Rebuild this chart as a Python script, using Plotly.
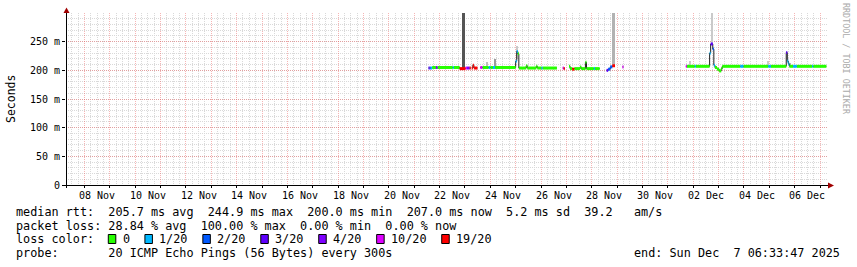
import pandas as pd
import plotly.graph_objects as go

# ---------------- data ----------------
t_start = "2025-11-07 06:33:47"
t_end = "2025-12-07 06:33:47"

seg_start = [
    "2025-11-21 13:30", "2025-11-21 14:30", "2025-11-21 15:30", "2025-11-21 17:00", "2025-11-21 20:30",
    "2025-11-21 22:00", "2025-11-22 12:30", "2025-11-22 13:30", "2025-11-22 19:00", "2025-11-23 00:30",
    "2025-11-23 02:00", "2025-11-23 04:30", "2025-11-23 06:30", "2025-11-23 07:30", "2025-11-23 08:30",
    "2025-11-23 09:30", "2025-11-23 14:30", "2025-11-23 16:30", "2025-11-23 22:30", "2025-11-24 00:00",
    "2025-11-24 02:30", "2025-11-24 04:30", "2025-11-25 00:00", "2025-11-25 01:00", "2025-11-25 02:00",
    "2025-11-25 03:00", "2025-11-25 10:00", "2025-11-25 11:00", "2025-11-25 19:30", "2025-11-25 20:30",
    "2025-11-26 00:30", "2025-11-26 01:30", "2025-11-26 20:30", "2025-11-26 21:30", "2025-11-27 02:30",
    "2025-11-27 03:30", "2025-11-27 05:30", "2025-11-27 07:30", "2025-11-27 13:00", "2025-11-27 14:00",
    "2025-11-27 18:00", "2025-11-27 19:00", "2025-11-28 02:00", "2025-11-28 03:00", "2025-11-28 14:00",
    "2025-11-28 15:30", "2025-11-28 17:30", "2025-11-28 19:30", "2025-11-29 05:00",
    "2025-12-01 17:00", "2025-12-01 18:00", "2025-12-02 01:30", "2025-12-02 02:30", "2025-12-02 15:30",
    "2025-12-02 16:30", "2025-12-02 18:30", "2025-12-02 19:30", "2025-12-02 20:30", "2025-12-02 22:30",
    "2025-12-03 00:30", "2025-12-03 02:30", "2025-12-03 03:30", "2025-12-03 20:30", "2025-12-03 23:30",
    "2025-12-04 23:00", "2025-12-05 01:30", "2025-12-05 16:00", "2025-12-05 17:00", "2025-12-05 18:00",
    "2025-12-05 19:00", "2025-12-05 22:30", "2025-12-06 02:00", "2025-12-06 16:30", "2025-12-06 17:30",
]
seg_end = [
    "2025-11-21 14:30", "2025-11-21 15:30", "2025-11-21 17:00", "2025-11-21 20:30", "2025-11-21 22:00",
    "2025-11-22 12:30", "2025-11-22 13:30", "2025-11-22 19:00", "2025-11-23 00:30", "2025-11-23 02:00",
    "2025-11-23 04:30", "2025-11-23 05:30", "2025-11-23 07:30", "2025-11-23 08:30", "2025-11-23 09:30",
    "2025-11-23 11:50", "2025-11-23 16:30", "2025-11-23 22:30", "2025-11-24 00:00", "2025-11-24 02:30",
    "2025-11-24 04:30", "2025-11-25 00:00", "2025-11-25 01:00", "2025-11-25 02:00", "2025-11-25 03:00",
    "2025-11-25 10:00", "2025-11-25 11:00", "2025-11-25 19:30", "2025-11-25 20:30", "2025-11-26 00:30",
    "2025-11-26 01:30", "2025-11-26 15:00", "2025-11-26 21:30", "2025-11-26 22:30", "2025-11-27 03:30",
    "2025-11-27 05:30", "2025-11-27 07:30", "2025-11-27 13:00", "2025-11-27 14:00", "2025-11-27 18:00",
    "2025-11-27 19:00", "2025-11-28 02:00", "2025-11-28 03:00", "2025-11-28 07:30", "2025-11-28 15:30",
    "2025-11-28 17:30", "2025-11-28 19:30", "2025-11-28 22:00", "2025-11-29 06:00",
    "2025-12-01 18:00", "2025-12-02 01:30", "2025-12-02 02:30", "2025-12-02 15:30", "2025-12-02 16:30",
    "2025-12-02 18:30", "2025-12-02 19:30", "2025-12-02 20:30", "2025-12-02 22:30", "2025-12-03 00:30",
    "2025-12-03 02:30", "2025-12-03 03:30", "2025-12-03 20:30", "2025-12-03 23:30", "2025-12-04 23:00",
    "2025-12-05 01:30", "2025-12-05 16:00", "2025-12-05 17:00", "2025-12-05 18:00", "2025-12-05 19:00",
    "2025-12-05 22:30", "2025-12-06 02:00", "2025-12-06 16:30", "2025-12-06 17:30", "2025-12-07 06:00",
]
seg_median_ms = [
    204, 204, 204, 205, 205,
    205, 205, 205, 203, 204,
    204, 204, 204, 209, 204,
    204, 205, 205, 205, 205,
    205, 205, 216, 233, 229,
    204, 208, 204, 207, 204,
    204, 204, 204, 203, 207,
    203, 202, 203, 206, 203,
    214, 203, 203, 203, 200,
    202, 206, 208, 206,
    207, 207, 207, 207, 230,
    246, 237, 209, 205, 202,
    199, 203, 207, 207, 207,
    207, 207, 231, 216, 211,
    207, 207, 207, 207, 207,
]
seg_loss = [
    3, 2, 1, 0, 4,
    0, 1, 0, 16, 8,
    4, 16, 17, 17, 17,
    16, 9, 0, 1, 0,
    1, 0, 1, 1, 0,
    0, 0, 0, 0, 0,
    1, 0, 10, 18, 0,
    0, 17, 0, 0, 0,
    0, 0, 1, 0, 3,
    2, 2, 18, 10,
    10, 0, 1, 0, 1,
    3, 2, 1, 0, 0,
    0, 0, 0, 1, 0,
    1, 0, 3, 1, 1,
    0, 1, 0, 1, 0,
]

smoke_start = ["2025-11-22 21:30", "2025-11-23 20:30", "2025-11-24 03:45", "2025-11-25 00:30",
               "2025-11-28 19:00", "2025-12-01 20:30", "2025-12-02 16:30", "2025-12-04 22:30",
               "2025-12-05 19:00"]
smoke_end = ["2025-11-23 00:00", "2025-11-23 21:15", "2025-11-24 04:30", "2025-11-25 02:30",
             "2025-11-28 22:00", "2025-12-01 21:30", "2025-12-02 18:30", "2025-12-04 23:30",
             "2025-12-05 20:30"]
smoke_lo_ms = [203, 206, 206, 220, 209, 208, 248, 208, 208]
smoke_hi_ms = [310, 214, 220, 243, 310, 216, 310, 217, 213]
smoke_pings = [12, 3, 6, 2, 4, 2, 2, 2, 4]

x_label_dates = ["2025-11-08 12:00", "2025-11-10 12:00", "2025-11-12 12:00", "2025-11-14 12:00",
                 "2025-11-16 12:00", "2025-11-18 12:00", "2025-11-20 12:00", "2025-11-22 12:00",
                 "2025-11-24 12:00", "2025-11-26 12:00", "2025-11-28 12:00", "2025-11-30 12:00",
                 "2025-12-02 12:00", "2025-12-04 12:00", "2025-12-06 12:00"]
x_label_text = ["08 Nov", "10 Nov", "12 Nov", "14 Nov", "16 Nov", "18 Nov", "20 Nov", "22 Nov",
                "24 Nov", "26 Nov", "28 Nov", "30 Nov", "02 Dec", "04 Dec", "06 Dec"]
y_tick_vals = [0, 50, 100, 150, 200, 250]
y_tick_text = ["0", "50 m", "100 m", "150 m", "200 m", "250 m"]

loss_levels = [0, 1, 2, 3, 4, 10, 19]
loss_labels = ["0", "1/20", "2/20", "3/20", "4/20", "10/20", "19/20"]
loss_colors = ["#26ff00", "#00b8ff", "#0059ff", "#5e00ff", "#7e00ff", "#dd00ff", "#ff0000"]

rtt_stats = [205.7, 244.9, 200.0, 207.0]
rtt_sd = 5.2
rtt_ams = 39.2
loss_stats = [28.84, 100.00, 0.00, 0.00]
probe_text = "20 ICMP Echo Pings (56 Bytes) every 300s"
end_text = "end: Sun Dec  7 06:33:47 2025"

# ---------------- layout geometry ----------------
W, H = 857, 267
L, R, T, B = 66, 30, 13, 82
PW = W - L - R
PH = H - T - B
MONO = "DejaVu Sans Mono"


def px_x(px):
    return (px - L) / PW


def px_y(py):
    return (T + PH - py) / PH


def loss_bucket(n):
    for i, lvl in enumerate(loss_levels):
        if n <= lvl:
            return i
    return len(loss_levels) - 1


def nb(s):
    return s.replace(" ", "\u00a0")


fig = go.Figure()

# smoke
ss = pd.to_datetime(smoke_start)
se = pd.to_datetime(smoke_end)
smoke_cols = []
for p in smoke_pings:
    g = int(round(225 - 140 * min(p, 12) / 12))
    smoke_cols.append(f"rgb({g},{g},{g})")
fig.add_trace(go.Bar(
    x=ss + (se - ss) / 2,
    y=[h - l for h, l in zip(smoke_hi_ms, smoke_lo_ms)],
    base=smoke_lo_ms,
    width=list((se - ss).total_seconds() * 1000),
    marker=dict(color=smoke_cols, line=dict(width=0)),
    hoverinfo="skip", showlegend=False,
))

# median line (dark), drawn under the loss-coloured band
s = pd.to_datetime(seg_start)
e = pd.to_datetime(seg_end)
lx, ly = [], []
for i in range(len(s)):
    lx += [s[i], e[i]]
    ly += [seg_median_ms[i], seg_median_ms[i]]
    if i + 1 < len(s) and s[i + 1] != e[i]:
        lx.append(e[i])
        ly.append(None)
fig.add_trace(go.Scatter(x=lx, y=ly, mode="lines", line=dict(color="#202020", width=1),
                         connectgaps=False, hoverinfo="skip", showlegend=False))

# loss-coloured band: one trace per loss colour
for b, col in enumerate(loss_colors):
    bx_, by_ = [], []
    for i in range(len(s)):
        if loss_bucket(seg_loss[i]) == b:
            bx_ += [s[i], e[i], e[i]]
            by_ += [seg_median_ms[i], seg_median_ms[i], None]
    if bx_:
        fig.add_trace(go.Scatter(x=bx_, y=by_, mode="lines", line=dict(color=col, width=3),
                                 connectgaps=False, hoverinfo="skip", showlegend=False))

major_grid = "rgba(235,90,90,0.45)"
minor_grid = "#d9d9d9"

fig.update_layout(
    width=W, height=H,
    margin=dict(l=L, r=R, t=T, b=B, pad=0),
    paper_bgcolor="white", plot_bgcolor="white",
    barmode="overlay", bargap=0,
    showlegend=False,
    font=dict(family=MONO, size=10, color="black"),
    xaxis=dict(
        type="date", range=[t_start, t_end],
        showgrid=True, gridcolor=major_grid, griddash="1px,1px", gridwidth=1,
        tick0="2025-11-08 00:00", dtick=86400000,
        showticklabels=False, ticks="outside", ticklen=2, tickcolor="#000", tickwidth=1,
        minor=dict(dtick=21600000, tick0="2025-11-08 00:00", showgrid=True,
                   gridcolor=minor_grid, griddash="1px,1px", ticks=""),
        showline=False, zeroline=False, fixedrange=True,
    ),
    yaxis=dict(
        range=[0, 300], tickmode="array", tickvals=y_tick_vals, ticktext=y_tick_text,
        showgrid=True, gridcolor=major_grid, griddash="1px,1px", gridwidth=1,
        minor=dict(dtick=10, tick0=0, showgrid=True, gridcolor=minor_grid,
                   griddash="1px,1px", ticks=""),
        ticks="outside", ticklen=3, tickcolor="#000", tickwidth=1,
        tickfont=dict(family=MONO, size=10, color="black"),
        showline=False, zeroline=False, fixedrange=True,
    ),
)

shapes = []
ann = []
# axes lines and arrows
shapes.append(dict(type="line", xref="paper", yref="paper", x0=px_x(62.5), x1=px_x(829),
                   y0=px_y(185.5), y1=px_y(185.5), line=dict(color="#000", width=1)))
shapes.append(dict(type="line", xref="paper", yref="paper", x0=px_x(66.5), x1=px_x(66.5),
                   y0=px_y(188), y1=px_y(12), line=dict(color="#000", width=1)))
shapes.append(dict(type="path", xref="paper", yref="paper",
                   path=f"M {px_x(828)} {px_y(182.5)} L {px_x(834)} {px_y(185.5)} L {px_x(828)} {px_y(188.5)} Z",
                   fillcolor="#a00000", line=dict(width=0)))
shapes.append(dict(type="path", xref="paper", yref="paper",
                   path=f"M {px_x(63.5)} {px_y(13)} L {px_x(66.5)} {px_y(7.5)} L {px_x(69.5)} {px_y(13)} Z",
                   fillcolor="#a00000", line=dict(width=0)))

# x labels
for d, txt in zip(x_label_dates, x_label_text):
    ann.append(dict(x=d, xref="x", y=px_y(195), yref="paper", text=nb(txt), showarrow=False,
                    xanchor="center", yanchor="middle", font=dict(family=MONO, size=10, color="black"),
                    borderpad=0, borderwidth=0))

# y title
ann.append(dict(x=px_x(11), xref="paper", y=px_y(99), yref="paper", text="Seconds", textangle=-90,
                showarrow=False, xanchor="center", yanchor="middle",
                font=dict(family=MONO, size=11.5, color="black"), borderpad=0, borderwidth=0))
# watermark
ann.append(dict(x=px_x(846), xref="paper", y=px_y(59), yref="paper", text=nb("RRDTOOL / TOBI OETIKER"),
                textangle=90, showarrow=False, xanchor="center", yanchor="middle",
                font=dict(family=MONO, size=8.4, color="#aaaaaa"), borderpad=0, borderwidth=0))

LF = 11.8
CW = 7.11


def legend_text(px, py, text, anchor="left"):
    ann.append(dict(x=px_x(px), xref="paper", y=px_y(py), yref="paper", text=nb(text), showarrow=False,
                    xanchor=anchor, yanchor="middle", font=dict(family=MONO, size=LF, color="black"),
                    borderpad=0, borderwidth=0))


line1 = ("median rtt:  " + f"{rtt_stats[0]:.1f} ms avg  {rtt_stats[1]:.1f} ms max  "
         f"{rtt_stats[2]:.1f} ms min  {rtt_stats[3]:.1f} ms now  {rtt_sd:.1f} ms sd  {rtt_ams:.1f}   am/s")
line2 = ("packet loss: " + f"{loss_stats[0]:.2f} % avg  {loss_stats[1]:.2f} % max  "
         f"{loss_stats[2]:.2f} % min  {loss_stats[3]:.2f} % now")
legend_text(16, 211.5, line1)
legend_text(16, 225.5, line2)
legend_text(16, 239, "loss color:")
legend_text(16, 253, "probe:       " + probe_text)
legend_text(840, 253, end_text, anchor="right")

bx = 108.3
for lab, col in zip(loss_labels, loss_colors):
    shapes.append(dict(type="rect", xref="paper", yref="paper", x0=px_x(bx), x1=px_x(bx + 7.5),
                       y0=px_y(243.5), y1=px_y(234.5), fillcolor=col, line=dict(color="#000", width=1)))
    lx0 = bx + 14.5
    legend_text(lx0, 239, lab)
    bx = lx0 + len(lab) * CW + 15

fig.update_layout(shapes=shapes, annotations=ann)
fig.write_html("out.html")
